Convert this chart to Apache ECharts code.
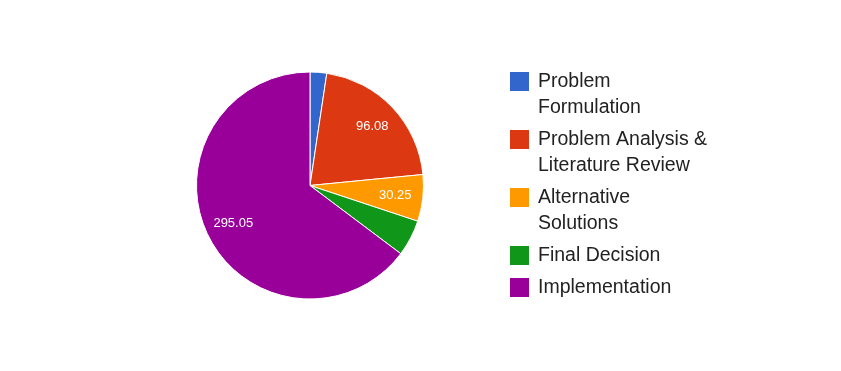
<!DOCTYPE html>
<html><head><meta charset="utf-8">
<script src="https://cdn.jsdelivr.net/npm/echarts@6/dist/echarts.min.js"></script>
<style>html,body{margin:0;padding:0;background:#fff}#c{width:841px;height:371px}</style>
</head><body><div id="c"></div>
<script>
const categories = ['Problem Formulation', 'Problem Analysis & Literature Review', 'Alternative Solutions', 'Final Decision', 'Implementation'];
const legendLabels = ['Problem\nFormulation', 'Problem Analysis &\nLiterature Review', 'Alternative\nSolutions', 'Final Decision', 'Implementation'];
const values = [10.8, 96.08, 30.25, 23.5, 295.05];
const colors = ['#3366cc', '#dc3912', '#ff9900', '#109618', '#990099'];
const labelled = [false, true, true, false, true];

const chart = echarts.init(document.getElementById('c'), null, { renderer: 'canvas' });
const data = categories.map((n, i) => ({ name: n, value: values[i], itemStyle: { color: colors[i] } }));
const labelData = categories.map((n, i) => ({ name: n, value: values[i], label: { show: labelled[i] } }));

const graphic = [];
let y = 72;
legendLabels.forEach((t, i) => {
  const lines = t.split('\n').length;
  graphic.push({ type: 'rect', shape: { x: 510, y: y, width: 19, height: 19 }, style: { fill: colors[i] }, silent: true });
  graphic.push({ type: 'text', x: 538, y: y + 9.5 - 13, style: { text: t, x: 0, y: 0, verticalAlign: 'top', align: 'left', fontFamily: '"Liberation Sans", Arial, sans-serif', fontSize: 19.5, lineHeight: 26, fill: '#222222' }, silent: true });
  y += lines * 26 + 6;
});

chart.setOption({
  animation: false,
  backgroundColor: '#ffffff',
  graphic: graphic,
  series: [
    {
      type: 'pie', center: [310, 185.5], radius: [0, 113.5], startAngle: 90, clockwise: true,
      data: data, label: { show: false }, labelLine: { show: false },
      itemStyle: { borderColor: '#ffffff', borderWidth: 1 },
      emphasis: { disabled: true }, silent: true
    },
    {
      type: 'pie', center: [310, 185.5], radius: [52, 113.5], startAngle: 90, clockwise: true,
      data: labelData, labelLine: { show: false },
      itemStyle: { color: 'rgba(0,0,0,0)', borderWidth: 0 },
      label: { position: 'inside', color: '#ffffff', fontSize: 13, fontFamily: '"Liberation Sans", Arial, sans-serif', formatter: '{c}' },
      emphasis: { disabled: true }, silent: true
    }
  ]
});
</script></body></html>
